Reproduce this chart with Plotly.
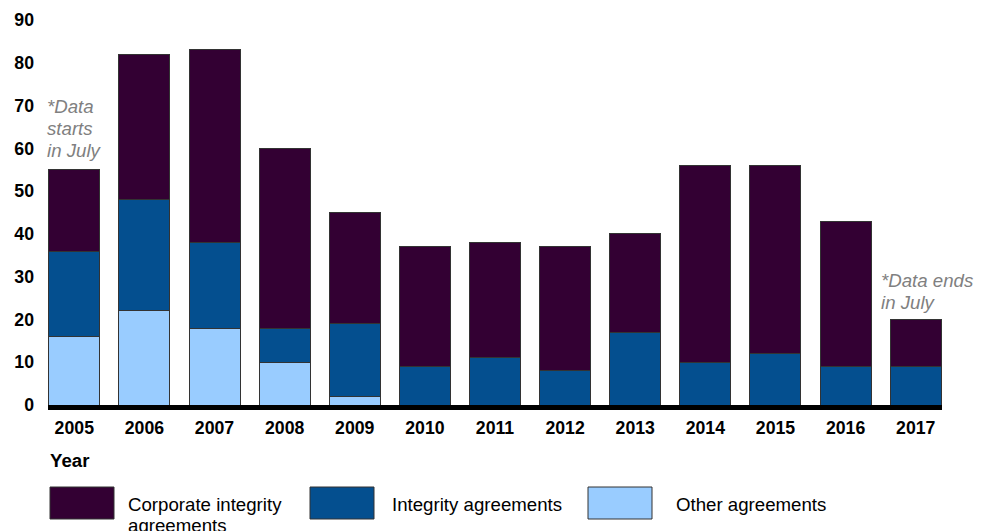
import plotly.graph_objects as go

years = ["2005", "2006", "2007", "2008", "2009", "2010", "2011", "2012", "2013", "2014", "2015", "2016", "2017"]
other_agreements = [16, 22, 18, 10, 2, 0, 0, 0, 0, 0, 0, 0, 0]
integrity_agreements = [20, 26, 20, 8, 17, 9, 11, 8, 17, 10, 12, 9, 9]
corporate_integrity = [19, 34, 45, 42, 26, 28, 27, 29, 23, 46, 44, 34, 11]
y_ticks = [0, 10, 20, 30, 40, 50, 60, 70, 80, 90]

C_CORP = "#330033"
C_INT = "#044f8f"
C_OTH = "#99ccff"
OUTLINE = "#333333"
NOTE = "#808080"
FS = 18.67
TFS = 17.7

OFF = 8  # page body margin
W, H = 981, 523
# screen coords of plot area: left 48, right 942, top 20, bottom 405
L = 48 - OFF
T = 20 - OFF
R = W - (942 - OFF)
B = H - (405 - OFF)
PW, PH = W - L - R, H - T - B

def px(x):
    return (x - OFF - L) / PW

def py(y):
    return (H - B - (y - OFF)) / PH

fig = go.Figure()
for name, vals, col in [("Other agreements", other_agreements, C_OTH),
                        ("Integrity agreements", integrity_agreements, C_INT),
                        ("Corporate integrity agreements", corporate_integrity, C_CORP)]:
    fig.add_trace(go.Bar(x=years, y=vals, name=name, marker=dict(color=col, line=dict(color=OUTLINE, width=1)),
                         showlegend=False))

fig.update_layout(
    width=W, height=H, barmode="stack", bargap=0.272,
    margin=dict(l=L, r=R, t=T, b=B, autoexpand=False),
    paper_bgcolor="white", plot_bgcolor="white",
    font=dict(family="Liberation Sans, Arial, sans-serif", color="black"),
    xaxis=dict(type="category", range=[-0.375, 12.375], showline=True, linecolor="black", linewidth=5,
               showgrid=False, ticks="", automargin=False,
               tickfont=dict(size=TFS, family="Liberation Sans, Arial", weight="bold"),
               ticklabelstandoff=3),
    yaxis=dict(range=[0, 90], tickvals=y_ticks, showgrid=False, zeroline=False, showline=False, ticks="",
               automargin=False,
               tickfont=dict(size=TFS, family="Liberation Sans, Arial", weight="bold"), ticklabelstandoff=13),
)

def text(s, x, y, color="black", bold=False, italic=False):
    fig.add_annotation(text=f"<b>{s}</b>" if bold else s, xref="paper", yref="paper", x=px(x), y=py(y),
                       xanchor="left", yanchor="middle", align="left", showarrow=False,
                       font=dict(size=FS, color=color, style="italic" if italic else "normal"))

# x-axis title
text("Year", 48, 460, bold=True)

# notes
for i, s in enumerate(["*Data", "starts", "in July"]):
    text(s, 45, 107 + 21.5 * i, color=NOTE, italic=True)
for i, s in enumerate(["*Data ends", "in July"]):
    text(s, 879, 280 + 22 * i, color=NOTE, italic=True)

# legend
legend_items = [(["Corporate integrity", "agreements"], C_CORP, 50, 114, 126),
                (["Integrity agreements"], C_INT, 310, 374, 390),
                (["Other agreements"], C_OTH, 588, 652, 674)]
for lines, col, x0, x1, tx in legend_items:
    fig.add_shape(type="rect", xref="paper", yref="paper", x0=px(x0), x1=px(x1), y0=py(519), y1=py(487),
                  fillcolor=col, line=dict(color=OUTLINE, width=1))
    for i, s in enumerate(lines):
        text(s, tx, 504 + 21 * i)

fig.write_html("out.html")
